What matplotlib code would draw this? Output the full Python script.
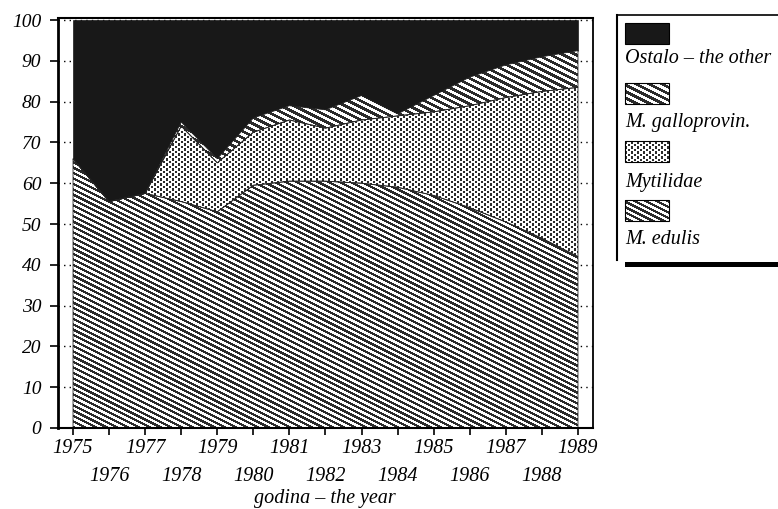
import matplotlib
matplotlib.use('Agg')
import matplotlib.pyplot as plt
from matplotlib.patches import Rectangle, PathPatch
import numpy as np

# ---- data (percent shares) ----
years = list(range(1975, 1990))
m_edulis = [66, 55.5, 57.5, 55.5, 53, 59.5, 60.5, 60.5, 60, 59, 57, 54, 50.5, 46.5, 42]
mytilidae = [0, 0, 0, 18.5, 12, 13, 15, 13, 15.5, 17.5, 20.5, 25, 30.5, 36, 41.5]
m_gallo = [0, 0, 0, 1, 1, 3.5, 3.5, 4.5, 6, 0.5, 4, 7, 8, 8.5, 9]
ostalo = [34, 44.5, 42.5, 25, 34, 24, 21, 22, 18.5, 23, 18.5, 14, 11, 9, 7.5]

series_labels = ["M. edulis", "Mytilidae", "M. galloprovin.", "Ostalo – the other"]
y_ticks = list(range(0, 101, 10))
x_label = "godina – the year"

plt.rcParams['font.family'] = ['Liberation Serif', 'DejaVu Serif']
plt.rcParams['font.style'] = 'italic'

DARK = np.array([0.17, 0.17, 0.17])
LIGHT = np.array([1.0, 1.0, 1.0])


def texture(kind, w, h):
    """Screen-pixel fill texture imitating the printed patterns."""
    yy, xx = np.mgrid[0:h, 0:w].astype(float)
    if kind == 'fine':
        dark = ((yy - 0.5 * xx) % 5.4) < 2.6
    elif kind == 'coarse':
        dark = ((yy - 0.5 * xx) % 6.4) < 3.2
    elif kind == 'dots':
        cx = np.floor(xx / 3.0)
        cy = np.floor(yy / 2.5)
        dark = ((cx + cy) % 2 == 0) & ((xx % 3.0) < 2.0)
    else:
        dark = np.ones_like(xx, dtype=bool)
    return np.where(dark[..., None], DARK, LIGHT)


W, H = 778, 509
fig = plt.figure(figsize=(W / 100, H / 100), dpi=100)
fig.patch.set_facecolor('white')

AX_L, AX_B, AX_W, AX_H = 58, 81, 535, 410
ax = fig.add_axes([AX_L / W, AX_B / H, AX_W / W, AX_H / H])
xlim = (1975 - 15 / 36, 1989 + 15 / 36)
ylim = (0, 100.5)

kinds = ['fine', 'dots', 'coarse', None]
polys = ax.stackplot(years, m_edulis, mytilidae, m_gallo, ostalo,
                     labels=series_labels, zorder=2)
for p, kind in zip(polys, kinds):
    if kind is None:
        p.set_facecolor('#181818')
        p.set_edgecolor('#181818')
        p.set_linewidth(0.5)
    else:
        p.set_facecolor('white')
        p.set_edgecolor('none')
        im = ax.imshow(texture(kind, AX_W, AX_H), extent=(xlim[0], xlim[1], ylim[0], ylim[1]),
                       origin='upper', interpolation='nearest', aspect='auto', zorder=2.5)
        im.set_clip_path(p.get_paths()[0], ax.transData)
        ax.add_patch(PathPatch(p.get_paths()[0], facecolor='none', edgecolor='#222222',
                               lw=0.6, zorder=2.6))

ax.set_xlim(*xlim)
ax.set_ylim(*ylim)

ax.set_axisbelow(True)
ax.yaxis.grid(True, linestyle=(0, (1, 3)), color='black', linewidth=1.0, zorder=0)
ax.set_yticks(y_ticks)
ax.set_yticklabels([str(v) for v in y_ticks], fontsize=14)
ax.tick_params(axis='y', direction='out', length=6, width=1.2, pad=6)

odd = [y for y in years if y % 2 == 1]
even = [y for y in years if y % 2 == 0]
ax.set_xticks(odd)
ax.set_xticklabels([str(y) for y in odd], fontsize=14.5)
ax.set_xticks(even, minor=True)
ax.set_xticklabels([str(y) for y in even], minor=True, fontsize=14.5)
ax.tick_params(axis='x', which='major', direction='out', length=5, width=1.2, pad=3)
ax.tick_params(axis='x', which='minor', direction='out', length=5, width=1.2, pad=23)

ax.spines['left'].set_linewidth(2.0)
ax.spines['top'].set_linewidth(1.5)
ax.spines['right'].set_linewidth(1.3)
ax.spines['bottom'].set_linewidth(1.5)
for s in ax.spines.values():
    s.set_zorder(3)

fig.text(325 / W, 1 - 499 / H, x_label, ha='center', va='center', fontsize=14.5)

# ---- legend drawn as a separate panel (swatch above label) ----
lax = fig.add_axes([617 / W, (H - 268) / H, (790 - 617) / W, (268 - 15) / H])
lax.axis('off')
lax.plot([617, 617], [15, 260], color='black', lw=1.5, clip_on=False)
lax.plot([617, 790], [15, 15], color='black', lw=1.2, clip_on=False)
lax.add_patch(Rectangle((625, 262), 170, 5, facecolor='black', edgecolor='none'))

leg_order = [3, 2, 1, 0]
sw_top = [23, 83, 141, 200]
lab_y = [58, 122, 182, 239]
SW_W, SW_H = 44, 21
for k, idx in enumerate(leg_order):
    kind = kinds[idx]
    x0, y0 = 625, sw_top[k]
    if kind is None:
        lax.add_patch(Rectangle((x0, y0), SW_W, SW_H, facecolor='#181818',
                                edgecolor='black', lw=0.8))
    else:
        lax.imshow(texture(kind, SW_W, SW_H), extent=(x0, x0 + SW_W, y0 + SW_H, y0),
                   origin='upper', interpolation='nearest', aspect='auto')
        lax.add_patch(Rectangle((x0, y0), SW_W, SW_H, facecolor='none',
                                edgecolor='black', lw=0.8))
    lax.text(x0, lab_y[k], series_labels[idx], ha='left', va='center', fontsize=14.5)
lax.set_xlim(617, 790)
lax.set_ylim(268, 15)

fig.savefig('out.png', dpi=100, facecolor='white')
